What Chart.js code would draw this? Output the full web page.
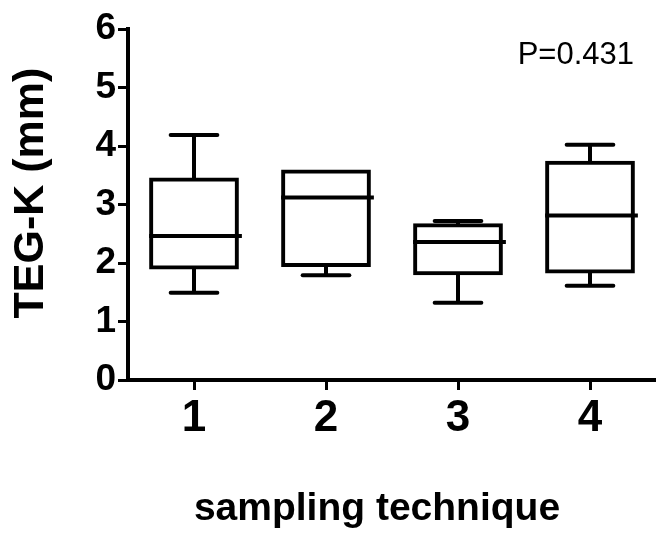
<!DOCTYPE html>
<html>
<head>
<meta charset="utf-8">
<script src="https://cdn.jsdelivr.net/npm/chart.js@4.4.1/dist/chart.umd.min.js"></script>
<style>
  html, body { margin: 0; padding: 0; background: #ffffff; }
  #wrap { width: 656px; height: 544px; position: relative; }
</style>
</head>
<body>
<div id="wrap"><canvas id="c" width="656" height="544"></canvas></div>
<script>
// ---- data ----
const categories = ['1', '2', '3', '4'];
const whiskerLow  = [1.49, 1.79, 1.32, 1.61];
const quartile1   = [1.89, 1.93, 1.79, 1.82];
const medians     = [2.46, 3.12, 2.36, 2.81];
const quartile3   = [3.46, 3.60, 2.68, 3.75];
const whiskerHigh = [4.19, 3.60, 2.72, 4.02];
const yTicks      = [0, 1, 2, 3, 4, 5, 6];
const yTitle = 'TEG-K (mm)';
const xTitle = 'sampling technique';
const pText  = 'P=0.431';

const FONT = 'Arial, "Liberation Sans", Helvetica, sans-serif';

const boxPlotPlugin = {
  id: 'boxExtras',
  afterDatasetsDraw(chart) {
    const ctx = chart.ctx;
    const xs = chart.scales.x, ys = chart.scales.y;
    const meta = chart.getDatasetMeta(0);
    ctx.save();
    ctx.strokeStyle = '#000';
    ctx.lineWidth = 4;
    categories.forEach((c, i) => {
      const bar = meta.data[i];
      const cx = xs.getPixelForValue(i);
      const half = bar.width / 2;
      const capHalf = half * 0.52;
      const ym = ys.getPixelForValue(medians[i]);
      const yq1 = ys.getPixelForValue(quartile1[i]);
      const yq3 = ys.getPixelForValue(quartile3[i]);
      const ylo = ys.getPixelForValue(whiskerLow[i]);
      const yhi = ys.getPixelForValue(whiskerHigh[i]);
      // median
      ctx.lineCap = 'butt';
      ctx.beginPath();
      ctx.moveTo(cx - half, ym);
      ctx.lineTo(cx + half + 3, ym);
      ctx.stroke();
      // whiskers
      ctx.beginPath();
      ctx.moveTo(cx, yq1 - 2); ctx.lineTo(cx, ylo);
      if (whiskerHigh[i] > quartile3[i]) { ctx.moveTo(cx, yq3 + 2); ctx.lineTo(cx, yhi); }
      ctx.stroke();
      ctx.lineCap = 'round';
      ctx.beginPath();
      ctx.moveTo(cx - capHalf, ylo); ctx.lineTo(cx + capHalf, ylo);
      if (whiskerHigh[i] > quartile3[i]) { ctx.moveTo(cx - capHalf, yhi); ctx.lineTo(cx + capHalf, yhi); }
      ctx.stroke();
    });
    ctx.restore();
  },
  afterDraw(chart) {
    const ctx = chart.ctx;
    ctx.save();
    ctx.fillStyle = '#000';
    // y-axis title
    ctx.save();
    ctx.translate(31, 193);
    ctx.rotate(-Math.PI / 2);
    ctx.font = 'bold 43px ' + FONT;
    ctx.textAlign = 'center';
    ctx.textBaseline = 'middle';
    ctx.fillText(yTitle, 0, 0);
    ctx.restore();
    // x-axis title
    ctx.font = 'bold 39px ' + FONT;
    ctx.textAlign = 'center';
    ctx.textBaseline = 'alphabetic';
    ctx.fillText(xTitle, 377, 520);
    // P value
    ctx.font = '31px ' + FONT;
    ctx.textAlign = 'right';
    ctx.fillText(pText, 634, 64);
    ctx.restore();
  }
};

new Chart(document.getElementById('c'), {
  type: 'bar',
  data: {
    labels: categories,
    datasets: [{
      data: categories.map((c, i) => [quartile1[i], quartile3[i]]),
      backgroundColor: 'rgba(0,0,0,0)',
      borderColor: '#000',
      borderWidth: 4,
      borderSkipped: false,
      barPercentage: 0.68,
      categoryPercentage: 1.0
    }]
  },
  options: {
    responsive: false,
    animation: false,
    devicePixelRatio: 1,
    layout: { padding: { top: 29, right: 0, left: 0, bottom: 0 } },
    plugins: { legend: { display: false }, tooltip: { enabled: false }, title: { display: false } },
    scales: {
      x: {
        type: 'category',
        offset: true,
        grid: { display: true, drawOnChartArea: false, drawTicks: true, tickLength: 10, lineWidth: 3, color: '#000', offset: false },
        border: { display: true, width: 4, color: '#000' },
        ticks: { color: '#000', font: { family: FONT, size: 44, weight: 'bold' }, padding: 2, maxRotation: 0 },
        afterFit(s) { s.height = 164; }
      },
      y: {
        min: 0, max: 6,
        afterBuildTicks(s) { s.ticks = yTicks.map(v => ({ value: v })); },
        grid: { display: true, drawOnChartArea: false, drawTicks: true, tickLength: 10, lineWidth: 3, color: '#000' },
        border: { display: true, width: 4, color: '#000' },
        ticks: { color: '#000', font: { family: FONT, size: 37, weight: 'bold' }, padding: 2 },
        afterFit(s) { s.width = 128; }
      }
    }
  },
  plugins: [boxPlotPlugin]
});
</script>
</body>
</html>
